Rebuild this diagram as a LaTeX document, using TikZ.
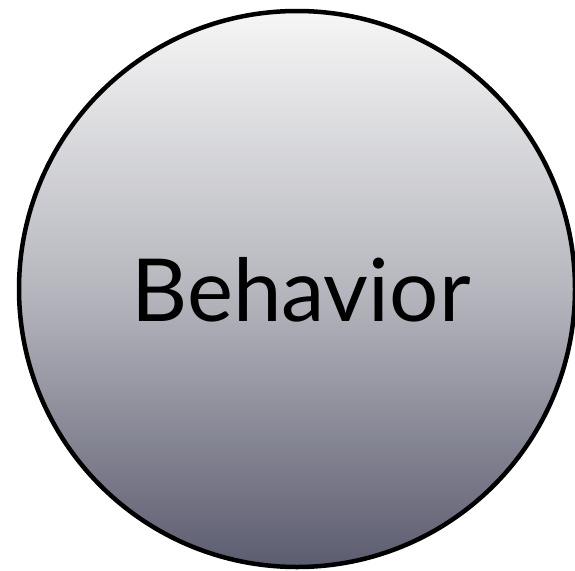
\documentclass[tikz,border=0pt]{standalone}
\usepackage{fontspec}
\setmainfont{Lato}
\definecolor{topc}{RGB}{246,246,246}
\definecolor{midc}{RGB}{182,183,190}
\definecolor{botc}{RGB}{92,92,112}
\tikzset{
  bubble/.style={circle, draw=black, line width=4.5pt, minimum size=556pt, inner sep=0pt,
    top color=topc, bottom color=botc, middle color=midc},
  label/.style={font=\fontsize{87}{100}\selectfont, text=black, anchor=base}
}
\begin{document}
\begin{tikzpicture}[x=1pt,y=-1pt]
\useasboundingbox (0,0) rectangle (575,570);
\clip (0,0) rectangle (575,570);
\node[bubble] (c) at (297,289) {};
\node[label] (t) at (301,321) {Behavior};
\end{tikzpicture}
\end{document}
